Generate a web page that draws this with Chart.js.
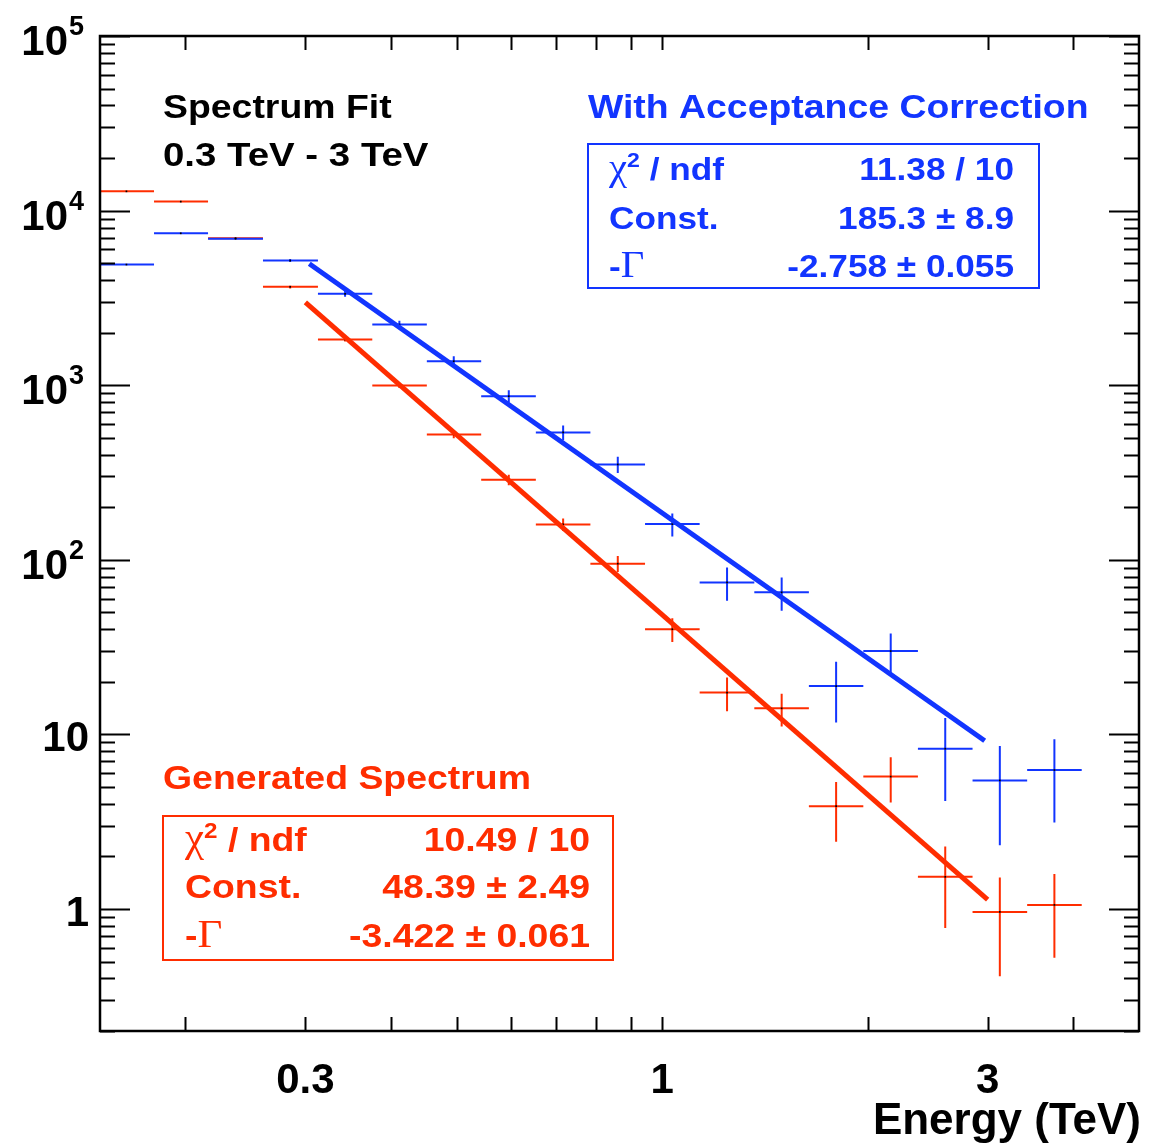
<!DOCTYPE html>
<html>
<head>
<meta charset="utf-8">
<script src="https://cdn.jsdelivr.net/npm/chart.js@4.4.0/dist/chart.umd.min.js"></script>
<style>
    html, body { margin: 0; padding: 0; background: #fff; }
    #wrap { width: 1170px; height: 1144px; position: relative; }
</style>
</head>
<body>
<div id="wrap"><canvas id="spectrum"></canvas></div>
<script>
// energy bins (TeV), log spaced
const binLow = [0.150, 0.180, 0.216, 0.260, 0.313, 0.376, 0.452, 0.543, 0.653, 0.785, 0.944, 1.135, 1.365, 1.641, 1.972, 2.371, 2.851, 3.428];
const binHigh = [0.180, 0.216, 0.260, 0.313, 0.376, 0.452, 0.543, 0.653, 0.785, 0.944, 1.135, 1.365, 1.641, 1.972, 2.371, 2.851, 3.428, 4.121];
const binCenter = [0.164, 0.197, 0.237, 0.285, 0.343, 0.412, 0.495, 0.596, 0.716, 0.861, 1.035, 1.245, 1.497, 1.799, 2.163, 2.600, 3.126, 3.758];

// with acceptance correction (blue)
const corrCounts = [4909, 7413, 6900, 5173, 3336, 2226, 1372, 865, 536, 351.6, 160.1, 74.2, 65.1, 18.9, 30, 8.28, 5.45, 6.25];
const corrErrors = [65, 100, 90, 100, 125, 114, 93, 69, 52, 38, 24, 16, 14, 7.2, 7.8, 4.13, 3.13, 3.12];

// generated spectrum (red)
const genCounts = [12890, 11260, 6950, 3657, 1826, 996, 522, 287, 159.4, 95.0, 40.0, 17.35, 14.1, 3.88, 5.73, 1.527, 0.962, 1.055];
const genErrors = [150, 120, 90, 72, 48, 33, 26, 19.5, 13, 10, 6.2, 3.8, 3.0, 1.45, 1.66, 0.75, 0.55, 0.53];

// fitted power laws, end points
const corrFitX = [0.304, 2.97];
const corrFitY = [4960, 9.2];
const genFitX = [0.3, 3.0];
const genFitY = [2980, 1.13];

// axes
const xLabelValues = [0.3, 1, 3];
const xLabelTexts = ['0.3', '1', '3'];
const xTickMarks = [0.2, 0.3, 0.4, 0.5, 0.6, 0.7, 0.8, 0.9, 1, 2, 3, 4];
const yLabelValues = [1, 10, 100, 1000, 10000, 100000];
const yLabelBase = ['1', '10', '10', '10', '10', '10'];
const yLabelExp = ['', '', '2', '3', '4', '5'];

const BLUE = '#1235ff';
const RED = '#ff2d00';
const SANS = '"Liberation Sans", Arial, Helvetica, sans-serif';
const SERIF = '"Liberation Serif", "Times New Roman", serif';

function errorBarPoints(counts, errors) {
    const pts = [];
    counts.forEach((v, i) => {
        pts.push({ x: binLow[i], y: v }, { x: binHigh[i], y: v }, { x: binHigh[i], y: null });
        pts.push({ x: binCenter[i], y: v - errors[i] }, { x: binCenter[i], y: v + errors[i] }, { x: binCenter[i], y: null });
    });
    return pts;
}

function drawRuns(ctx, runs, x, y, align, sx) {
    let w = 0;
    runs.forEach(r => { ctx.font = r.font; w += ctx.measureText(r.t).width; });
    ctx.save();
    ctx.translate(x, y);
    ctx.scale(sx, 1);
    let cx = align === 'right' ? -w : (align === 'center' ? -w / 2 : 0);
    ctx.textAlign = 'left';
    ctx.textBaseline = 'alphabetic';
    runs.forEach(r => {
        ctx.font = r.font;
        ctx.fillStyle = r.color;
        ctx.fillText(r.t, cx, r.dy || 0);
        cx += ctx.measureText(r.t).width;
    });
    ctx.restore();
}

function statsBox(ctx, color, box, rows) {
    ctx.save();
    ctx.strokeStyle = color;
    ctx.lineWidth = 2;
    ctx.strokeRect(box.x, box.y, box.w, box.h);
    ctx.restore();
    const fs = box.size;
    const b = 'bold ' + fs + 'px ' + SANS;
    const greek = Math.round(fs * 1.15) + 'px ' + SERIF;
    const sx = 1.1;
    drawRuns(ctx, [
        { t: 'χ', font: greek, color },
        { t: '2', font: 'bold ' + Math.round(fs * 0.66) + 'px ' + SANS, color, dy: -13 },
        { t: ' / ndf', font: b, color },
    ], box.labelX, box.rowY[0], 'left', sx);
    drawRuns(ctx, [{ t: 'Const.', font: b, color }], box.labelX, box.rowY[1], 'left', sx);
    drawRuns(ctx, [
        { t: '-', font: b, color },
        { t: 'Γ', font: greek, color },
    ], box.labelX, box.rowY[2], 'left', sx);
    rows.forEach((txt, i) => {
        drawRuns(ctx, [{ t: txt, font: b, color }], box.valueX, box.rowY[i], 'right', sx);
    });
}

const rootFrame = {
    id: 'rootFrame',
    afterDatasetsDraw(chart) {
        const ctx = chart.ctx;
        const a = chart.chartArea;
        const xs = chart.scales.x;
        const ys = chart.scales.y;
        ctx.save();
        ctx.strokeStyle = '#000';
        ctx.lineWidth = 2;
        ctx.beginPath();
        // x ticks, bottom and top, inward
        xTickMarks.forEach(v => {
            const px = Math.round(xs.getPixelForValue(v)) + 0.5;
            ctx.moveTo(px, a.bottom); ctx.lineTo(px, a.bottom - 14);
            ctx.moveTo(px, a.top); ctx.lineTo(px, a.top + 14);
        });
        // y ticks, left and right
        for (let dec = 0.1; dec < 2e5; dec *= 10) {
            for (let m = 1; m <= 9; m++) {
                const v = dec * m;
                if (v < ys.min || v > ys.max) continue;
                const py = Math.round(ys.getPixelForValue(v)) + 0.5;
                const len = m === 1 ? 30 : 15;
                ctx.moveTo(a.left, py); ctx.lineTo(a.left + len, py);
                ctx.moveTo(a.right, py); ctx.lineTo(a.right - len, py);
            }
        }
        ctx.stroke();
        ctx.lineWidth = 2.5;
        ctx.strokeRect(a.left, a.top, a.right - a.left, a.bottom - a.top);
        ctx.restore();

        // tick labels
        const tickFont = 'bold 42px ' + SANS;
        xLabelValues.forEach((v, i) => {
            drawRuns(ctx, [{ t: xLabelTexts[i], font: tickFont, color: '#000' }], xs.getPixelForValue(v), a.bottom + 62, 'center', 1);
        });
        yLabelValues.forEach((v, i) => {
            const py = ys.getPixelForValue(v);
            if (yLabelExp[i]) {
                drawRuns(ctx, [{ t: yLabelBase[i], font: tickFont, color: '#000' }], a.left - 32, py + 19, 'right', 1);
                drawRuns(ctx, [{ t: yLabelExp[i], font: 'bold 27px ' + SANS, color: '#000' }], a.left - 31, py - 1, 'left', 1);
            } else {
                drawRuns(ctx, [{ t: yLabelBase[i], font: tickFont, color: '#000' }], a.left - 11, py + 17, 'right', 1);
            }
        });
        drawRuns(ctx, [{ t: 'Energy (TeV)', font: 'bold 44px ' + SANS, color: '#000' }], 1141, 1134, 'right', 1);

        // annotations
        const big = 'bold 34px ' + SANS;
        drawRuns(ctx, [{ t: 'Spectrum Fit', font: big, color: '#000' }], 163, 118, 'left', 1.1);
        drawRuns(ctx, [{ t: '0.3 TeV - 3 TeV', font: big, color: '#000' }], 163, 166, 'left', 1.13);
        drawRuns(ctx, [{ t: 'With Acceptance Correction', font: big, color: BLUE }], 588, 118, 'left', 1.1);
        drawRuns(ctx, [{ t: 'Generated Spectrum', font: big, color: RED }], 163, 789, 'left', 1.1);

        statsBox(ctx, BLUE, { x: 588, y: 144, w: 451, h: 144, size: 32, labelX: 609, valueX: 1014, rowY: [180, 229, 277] },
            ['11.38 / 10', '185.3 ± 8.9', '-2.758 ± 0.055']);
        statsBox(ctx, RED, { x: 163, y: 816, w: 450, h: 144, size: 34, labelX: 185, valueX: 590, rowY: [851, 898, 947] },
            ['10.49 / 10', '48.39 ± 2.49', '-3.422 ± 0.061']);
    },
};

const lineSet = (data, color, width) => ({
    type: 'line',
    data,
    borderColor: color,
    borderWidth: width,
    borderCapStyle: 'butt',
    pointRadius: 0,
    pointHitRadius: 0,
    spanGaps: false,
    tension: 0,
    fill: false,
});

const dotSet = (counts) => ({
    type: 'scatter',
    data: counts.map((v, i) => ({ x: binCenter[i], y: v })),
    pointStyle: 'rect',
    pointRadius: 1.2,
    pointBorderWidth: 0,
    pointBackgroundColor: '#000',
    showLine: false,
});

const canvas = document.querySelector('#spectrum');
new Chart(canvas, {
    type: 'line',
    data: {
        datasets: [
            lineSet(corrFitX.map((x, i) => ({ x, y: corrFitY[i] })), BLUE, 5),
            lineSet(genFitX.map((x, i) => ({ x, y: genFitY[i] })), RED, 5),
            dotSet(corrCounts),
            dotSet(genCounts),
            lineSet(errorBarPoints(corrCounts, corrErrors), BLUE, 2),
            lineSet(errorBarPoints(genCounts, genErrors), RED, 2),
        ],
    },
    options: {
        responsive: true,
        maintainAspectRatio: false,
        animation: false,
        events: [],
        layout: { padding: { left: 100, top: 36, right: 31, bottom: 113 } },
        scales: {
            x: { type: 'logarithmic', min: 0.15, max: 5, display: false },
            y: { type: 'logarithmic', min: 0.2, max: 100000, display: false },
        },
        plugins: {
            legend: { display: false },
            tooltip: { enabled: false },
        },
    },
    plugins: [rootFrame],
});
</script>
</body>
</html>
